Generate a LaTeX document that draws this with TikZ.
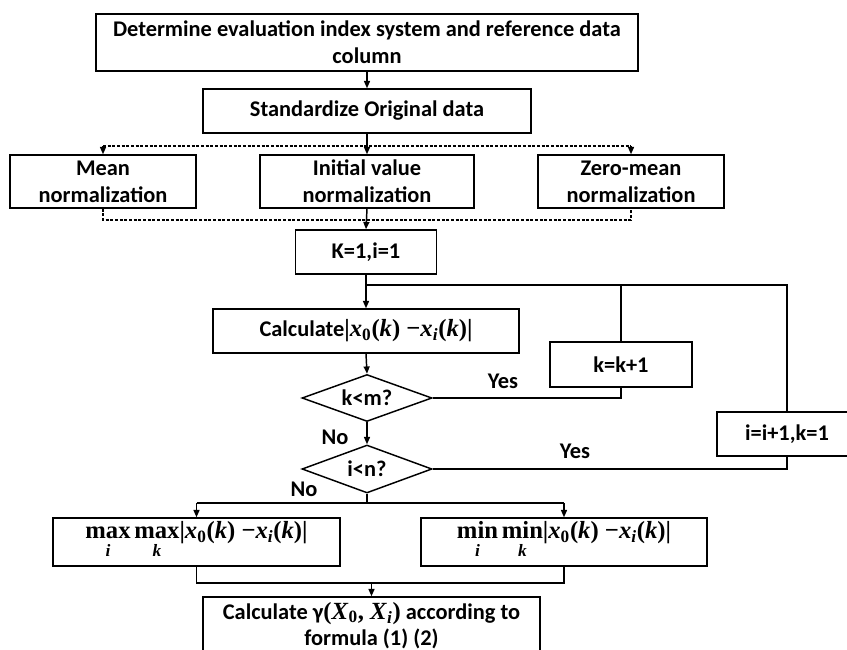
\documentclass[tikz,border=0pt]{standalone}
\usepackage{fontspec}
\setmainfont{Carlito}
\newfontfamily\mfamraw{Liberation Serif}
\newcommand\mfam{\mfamraw\fontsize{18.5}{20}\selectfont}
\usetikzlibrary{shapes.geometric,arrows.meta}
\newcommand\flowfnt{\fontsize{16.8}{20}\selectfont\bfseries}
\newcommand\dexpr{{\mfam|\textit{x}\textsubscript{0}(\textit{k}) −\textit{x}\textsubscript{\textit{i}}(\textit{k})|}}
\newcommand\limop[2]{{\mfam\begin{tabular}[t]{@{}c@{}}#1\\[-7pt]{\fontsize{13}{13}\selectfont\itshape #2}\end{tabular}}}
\tikzset{
  box/.style={draw, line width=1.1pt, align=center, inner sep=0pt, font=\flowfnt},
  dia/.style={draw, diamond, line width=1.1pt, inner sep=0pt, shape aspect=2.7, font=\flowfnt, minimum width=97.5pt},
  lbl/.style={inner sep=0pt, font=\flowfnt},
  conn/.style={line width=1.1pt},
  arr/.style={line width=1.1pt, -{Triangle[length=5.5pt,width=4.5pt]}},
  dline/.style={line width=1.1pt, dash pattern=on 2.2pt off 1.3pt},
  darr/.style={dline, -{Triangle[length=5.5pt,width=4.5pt]}},
}
\begin{document}
\begin{tikzpicture}[x=0.75pt,y=-0.75pt]
\useasboundingbox (0,0) rectangle (847,650);
\clip (0,0) rectangle (847,650);
\fill[white] (0,0) rectangle (847,650);

\node[box, minimum width=406.5pt, minimum height=42.75pt] (b1) at (367,42.5)
  {Determine evaluation index system and reference data\\column};
\node[box, minimum width=246pt, minimum height=33pt] (b2) at (367,111) {Standardize Original data};
\node[box, minimum width=139.5pt, minimum height=39.75pt] (mean) at (103,181.5) {Mean\\normalization};
\node[box, minimum width=160.5pt, minimum height=39.75pt] (init) at (367,181.5) {Initial value\\normalization};
\node[box, minimum width=139.5pt, minimum height=39.75pt] (zero) at (631,181.5) {Zero-mean\\normalization};
\node[box, minimum width=105.75pt, minimum height=33pt] (K) at (366,252) {K=1,i=1};
\node[box, minimum width=229.5pt, minimum height=33pt] (calc) at (366,331) {Calculate\dexpr};
\node[dia, minimum height=35.25pt] (km) at (367,398) {k<m?};
\node[box, minimum width=106.5pt, minimum height=33.75pt] (kk) at (621,364.5) {k=k+1};
\node[dia, minimum height=36pt] (in) at (367,469) {i<n?};
\node[box, minimum width=105pt, minimum height=33pt] (ii) at (787,434) {i=i+1,k=1};
\node[box, minimum width=215.25pt, minimum height=36pt] (max) at (196.5,542)
  {\limop{max}{i}\,\limop{max}{k}\dexpr};
\node[box, minimum width=214.5pt, minimum height=36pt] (min) at (564,542)
  {\limop{min}{i}\,\limop{min}{k}\dexpr};
\node[box, minimum width=252.75pt, minimum height=42.75pt] (final) at (371.5,625.5)
  {Calculate γ{\mfam(\textit{X}\textsubscript{0}, \textit{X}\textsubscript{\textit{i}})} according to\\formula (1) (2)};

\node[lbl] (yes1) at (503,381) {Yes};
\node[lbl] (yes2) at (575,451) {Yes};
\node[lbl] (no1) at (335,437) {No};
\node[lbl] (no2) at (304,489) {No};

% top part
\draw[arr] (b1.south) -- (b2.north);
\draw[arr] (b2.south) -- (init.north);
\coordinate (dtl) at (103,146);
\coordinate (dtr) at (631,146);
\draw[dline] (dtl) -- (dtr);
\draw[darr] (dtl) -- (mean.north);
\draw[darr] (dtr) -- (zero.north);
\coordinate (dbl) at (103,220);
\coordinate (dbr) at (631,220);
\draw[dline] (mean.south) -- (dbl) -- (dbr) -- (zero.south);
\draw[arr] (init.south) -- (K.north);
\draw[arr] (K.south) -- (calc.north);

% loops
\coordinate (loopL) at (366,285);
\draw[conn] (loopL) -- (ii.north |- loopL) -- (ii.north);
\draw[conn] (kk.north) -- (kk.north |- loopL);
\draw[arr] (calc.south) -- (km.north);
\draw[conn] (km.east) -- (kk.south |- km.east) -- (kk.south);
\draw[arr] (km.south) -- (in.north);
\draw[conn] (in.east) -- (ii.south |- in.east) -- (ii.south);

% bottom part
\coordinate (j1) at (367,503);
\draw[conn] (in.south) -- (j1);
\draw[conn] (max.north |- j1) -- (min.north |- j1);
\draw[arr] (max.north |- j1) -- (max.north);
\draw[arr] (min.north |- j1) -- (min.north);
\coordinate (j2) at (371.5,583);
\draw[conn] (max.south) -- (max.south |- j2) -- (min.south |- j2) -- (min.south);
\draw[arr] (j2) -- (final.north);
\end{tikzpicture}
\end{document}
